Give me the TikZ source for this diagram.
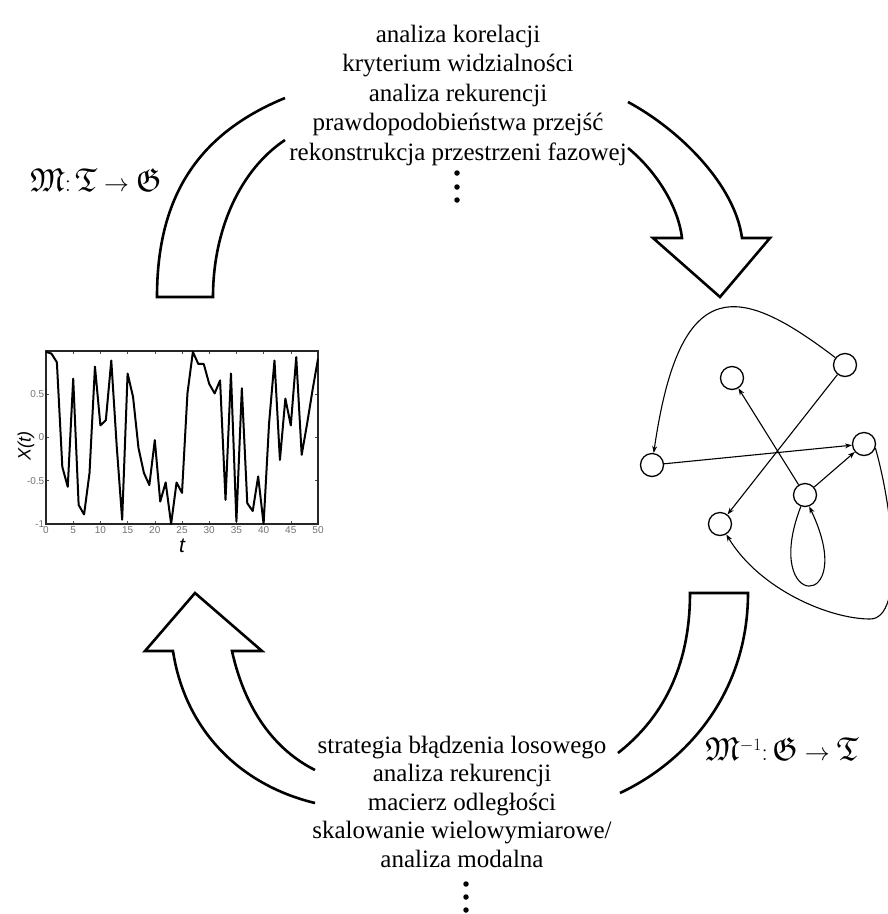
\documentclass[tikz,border=0pt]{standalone}
\usepackage{amssymb}
\usepackage{fontspec}
\setmainfont{Liberation Serif}
\setsansfont{Liberation Sans}
\usetikzlibrary{arrows.meta}

\begin{document}
\begin{tikzpicture}[x=1pt,y=-1pt,
  bigline/.style={line width=2.6pt, line join=miter, line cap=butt},
  txt/.style={font=\fontsize{25}{30}\selectfont, anchor=base, inner sep=0pt},
  maplabel/.style={font=\fontsize{33}{36}\selectfont, anchor=base west, inner sep=0pt},
  vdot/.style={circle, fill=black, inner sep=0pt, minimum size=5.5pt},
  gnode/.style={circle, draw, line width=1.3pt, minimum size=23pt, inner sep=0pt},
  gedge/.style={line width=1.1pt, -{Stealth[length=7pt,width=5pt]}},
  ticklab/.style={font=\sffamily\fontsize{10}{11}\selectfont, text=black!55, inner sep=1pt},
  axlab/.style={font=\sffamily\itshape, inner sep=0pt}]

\path[use as bounding box, fill=white] (0,0) rectangle (888,914);

% ---- curved transition arrows of the cycle ----
% upper left band
\draw[bigline] (285,140) .. controls (240,170) and (213,230) .. (213,297)
  -- (157,297) .. controls (157,200) and (195,135) .. (285,98);
% upper right arrow
\draw[bigline] (628,148) .. controls (655,170) and (678,205) .. (682,238)
  -- (653,238) -- (720,297) -- (770,238) -- (742,238)
  .. controls (735,185) and (680,130) .. (628,102);
% lower right band
\draw[bigline] (618,753) .. controls (660,720) and (690,670) .. (690,593)
  -- (748,593) .. controls (748,690) and (690,760) .. (620,793);
% lower left arrow
\draw[bigline] (315,770) .. controls (275,750) and (245,710) .. (232,651)
  -- (262,651) -- (195,593) -- (145,651) -- (173,651)
  .. controls (185,730) and (240,785) .. (315,803);

% ---- method lists ----
\node[txt] (top1) at (458,42)    {analiza korelacji};
\node[txt] (top2) at (458,71.5)  {kryterium widzialności};
\node[txt] (top3) at (458,101)   {analiza rekurencji};
\node[txt] (top4) at (458,130.5) {prawdopodobieństwa przejść};
\node[txt] (top5) at (458,160)   {rekonstrukcja przestrzeni fazowej};
\node[vdot] (td1) at (457,173) {};
\node[vdot] (td2) at (457,187) {};
\node[vdot] (td3) at (457,200) {};

\node[txt] (bot1) at (462,753)   {strategia błądzenia losowego};
\node[txt] (bot2) at (462,781.5) {analiza rekurencji};
\node[txt] (bot3) at (462,810)   {macierz odległości};
\node[txt] (bot4) at (462,838.5) {skalowanie wielowymiarowe/};
\node[txt] (bot5) at (462,867)   {analiza modalna};
\node[vdot] (bd1) at (466,884) {};
\node[vdot] (bd2) at (466,897) {};
\node[vdot] (bd3) at (466,910) {};

% ---- mapping labels ----
\node[maplabel] (mapfwd) at (30,191)
  {$\mathfrak{M}\colon \mathfrak{T}\rightarrow\mathfrak{G}$};
\node[maplabel] (mapinv) at (705,760)
  {$\mathfrak{M}^{\scriptscriptstyle -1}\colon \mathfrak{G}\rightarrow\mathfrak{T}$};

% ---- time series plot ----
\begin{scope}[shift={(46,437.5)}, x=5.44pt, y=86.5pt]
  \foreach \t in {0,5,...,50} {
    \draw[line width=0.6pt, black!70] (\t,-1) -- ++(0,0.035);
    \draw[line width=0.6pt, black!70] (\t,1) -- ++(0,-0.035);
    \node[ticklab, anchor=base] (xt\t) at (\t,-1.115) {\t};
  }
  \foreach \v/\l/\n in {-1/-1/1, -0.5/-0.5/2, 0/0/3, 0.5/0.5/4} {
    \draw[line width=0.6pt, black!70] (0,\v) -- ++(0.6,0);
    \draw[line width=0.6pt, black!70] (50,\v) -- ++(-0.6,0);
    \node[ticklab, anchor=east] (yt\n) at (-0.1,\v) {\l};
  }
  \draw[line width=1.8pt, black!85] (0,-1) rectangle (50,1);
  \draw[line width=2pt, line join=round] plot coordinates {
    (0,0.99) (1,0.97) (2,0.87) (3,-0.34) (4,-0.57) (5,0.68) (6,-0.78)
    (7,-0.89) (8,-0.41) (9,0.82) (10,0.14) (11,0.2) (12,0.89) (13,-0.1)
    (14,-0.95) (15,0.74) (16,0.47) (17,-0.12) (18,-0.41) (19,-0.55)
    (20,-0.03) (21,-0.74) (22,-0.52) (23,-1.0) (24,-0.52) (25,-0.64)
    (26,0.51) (27,0.99) (28,0.85) (29,0.85) (30,0.62) (31,0.51) (32,0.66)
    (33,-0.72) (34,0.74) (35,-0.97) (36,0.57) (37,-0.76) (38,-0.85)
    (39,-0.45) (40,-1.0) (41,0.16) (42,0.89) (43,-0.26) (44,0.45)
    (45,0.14) (46,0.93) (47,-0.2) (48,0.16) (49,0.55) (50,0.91)};
\end{scope}
\node[axlab, rotate=90, font=\sffamily\itshape\fontsize{18}{20}\selectfont] (ylab) at (26,446) {X(t)};
\node[axlab, anchor=north, font=\sffamily\itshape\fontsize{21}{22}\selectfont] (xlab) at (182,539) {t};

% ---- directed graph ----
\node[gnode] (A) at (845,365) {};
\node[gnode] (B) at (732,378) {};
\node[gnode] (C) at (864,444) {};
\node[gnode] (D) at (652,465) {};
\node[gnode] (E) at (805,495) {};
\node[gnode] (F) at (720,524) {};

\draw[gedge] (A) .. controls (740,285) and (680,270) .. (D);
\draw[gedge] (A) -- (F);
\draw[gedge] (D) -- (C);
\draw[gedge] (E) -- (B);
\draw[gedge] (E) -- (C);
\draw[gedge] (E.250) .. controls (760,612) and (860,612) .. (E.290);
\draw[gedge] (C.-20) .. controls (893,510) and (905,619) .. (870,619)
  .. controls (830,619) and (760,590) .. (F);
\end{tikzpicture}
\end{document}
